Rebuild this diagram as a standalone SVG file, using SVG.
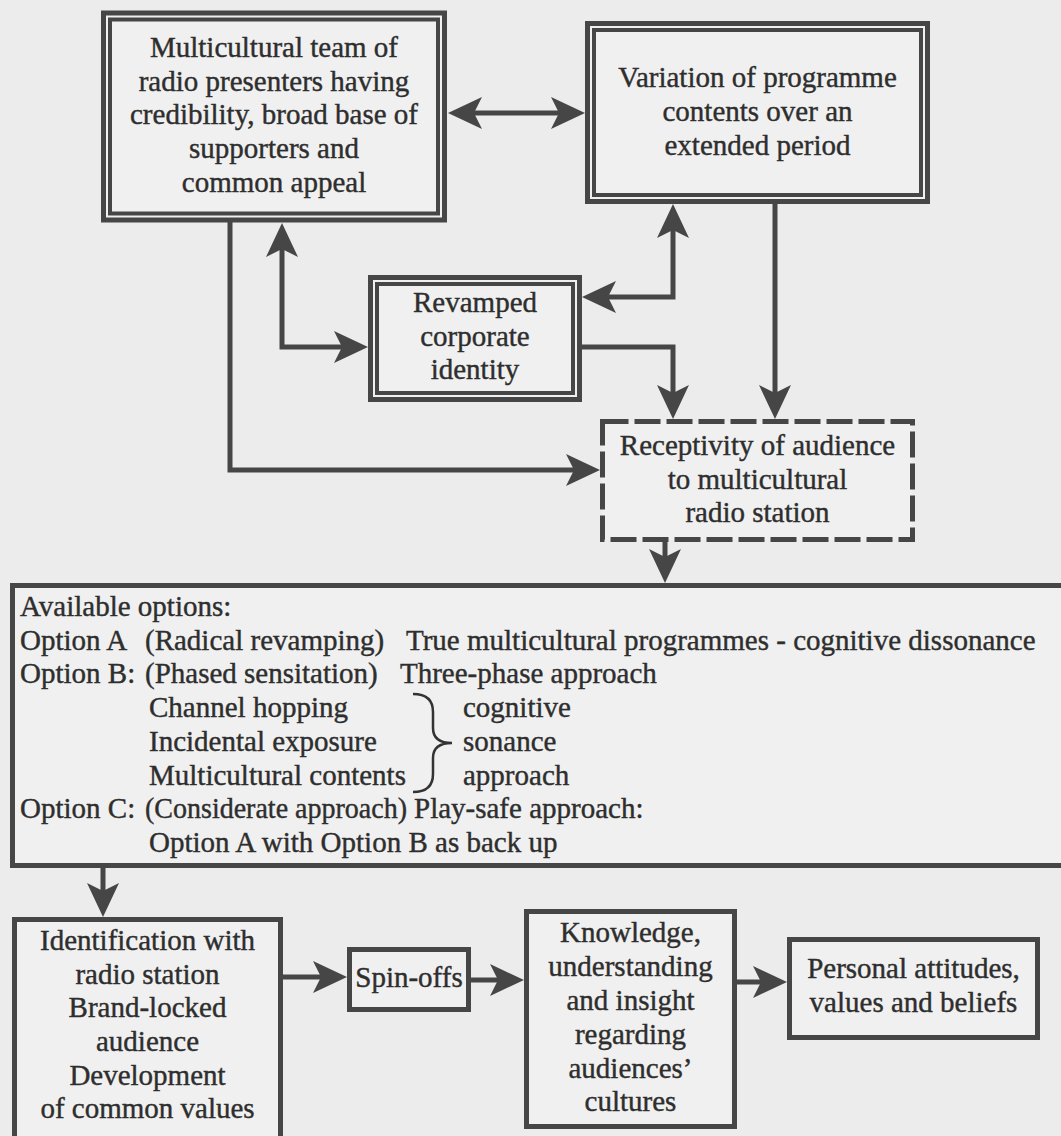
<svg xmlns="http://www.w3.org/2000/svg" width="1061" height="1136" viewBox="0 0 1061 1136" font-family="'Liberation Serif', serif">
  <defs>
    <marker id="ah" markerUnits="userSpaceOnUse" markerWidth="40" markerHeight="40" viewBox="0 -20 40 40" refX="10" refY="0" orient="auto-start-reverse" overflow="visible">
      <path d="M0,-16 L34,0 L0,16 L8,0 Z" fill="#464646"/>
    </marker>
  </defs>
  <style>
    .bg { fill: #ececec; }
    .outer { fill: #f0f0f0; stroke: #464646; stroke-width: 5; }
    .inner { fill: none; stroke: #464646; stroke-width: 4; }
    .single { fill: #f0f0f0; stroke: #464646; stroke-width: 5; }
    .dashed { fill: #f0f0f0; stroke: #464646; stroke-width: 5; stroke-dasharray: 26 6; }
    .conn { fill: none; stroke: #464646; stroke-width: 5; }
    .brace { fill: none; stroke: #333333; stroke-width: 2.5; }
    text { font-family: 'Liberation Serif', serif; font-size: 29px; fill: #2e2e2e; stroke: #2e2e2e; stroke-width: 0.4; }
    .c { text-anchor: middle; }
  </style>
  <rect class="bg" x="0" y="0" width="1061" height="1136"/>

  <g id="connectors">
    <path class="conn" d="M472,113 H561" marker-start="url(#ah)" marker-end="url(#ah)"/>
    <path class="conn" d="M230,222 V470 H576" marker-end="url(#ah)"/>
    <path class="conn" d="M282,247 V347 H344" marker-start="url(#ah)" marker-end="url(#ah)"/>
    <path class="conn" d="M673,228 V297 H606" marker-start="url(#ah)" marker-end="url(#ah)"/>
    <path class="conn" d="M582,347 H673 V395" marker-end="url(#ah)"/>
    <path class="conn" d="M775,204 V395" marker-end="url(#ah)"/>
    <path class="conn" d="M665,542 V559" marker-end="url(#ah)"/>
    <path class="conn" d="M103,868 V893" marker-end="url(#ah)"/>
    <path class="conn" d="M283,977 H323" marker-end="url(#ah)"/>
    <path class="conn" d="M471,980 H500" marker-end="url(#ah)"/>
    <path class="conn" d="M737,982 H763" marker-end="url(#ah)"/>
  </g>

  <g id="node-team">
    <rect class="outer" x="103.5" y="13" width="341" height="207"/>
    <rect class="inner" x="110" y="19.5" width="328" height="194"/>
    <text class="c" x="274" y="57">Multicultural team of</text>
    <text class="c" x="274" y="90.7">radio presenters having</text>
    <text class="c" x="274" y="124.4">credibility, broad base of</text>
    <text class="c" x="274" y="158.1">supporters and</text>
    <text class="c" x="274" y="191.8">common appeal</text>
  </g>

  <g id="node-variation">
    <rect class="outer" x="587.5" y="23.5" width="340" height="178"/>
    <rect class="inner" x="594" y="30" width="327" height="165"/>
    <text class="c" x="757.5" y="87">Variation of programme</text>
    <text class="c" x="757.5" y="121">contents over an</text>
    <text class="c" x="757.5" y="155">extended period</text>
  </g>

  <g id="node-revamped">
    <rect class="outer" x="370.5" y="277.5" width="209" height="122"/>
    <rect class="inner" x="377" y="284" width="196" height="109"/>
    <text class="c" x="475" y="312">Revamped</text>
    <text class="c" x="475" y="345.5">corporate</text>
    <text class="c" x="475" y="379">identity</text>
  </g>

  <g id="node-receptivity">
    <rect class="dashed" x="602.5" y="421.5" width="310" height="118"/>
    <text class="c" x="757.5" y="455">Receptivity of audience</text>
    <text class="c" x="757.5" y="489">to multicultural</text>
    <text class="c" x="757.5" y="522">radio station</text>
  </g>

  <g id="node-options">
    <rect class="single" x="12.5" y="585.5" width="1060" height="280"/>
    <text x="20" y="616">Available options:</text>
    <text x="20" y="649.7">Option A</text>
    <text x="145" y="649.7">(Radical revamping)</text>
    <text x="406" y="649.7">True multicultural programmes - cognitive dissonance</text>
    <text x="20" y="683.4">Option B:</text>
    <text x="145" y="683.4">(Phased sensitation)</text>
    <text x="400" y="683.4">Three-phase approach</text>
    <text x="149" y="717.1">Channel hopping</text>
    <text x="463" y="717.1">cognitive</text>
    <text x="149" y="750.8">Incidental exposure</text>
    <text x="463" y="750.8">sonance</text>
    <text x="149" y="784.5">Multicultural contents</text>
    <text x="463" y="784.5">approach</text>
    <path class="brace" d="M413,694 Q433,694 433,712 L433,728 Q433,743 452,743 Q433,743 433,758 L433,774 Q433,792 413,792"/>
    <text x="20" y="818.2">Option C:</text>
    <text x="145" y="818.2" textLength="262" lengthAdjust="spacingAndGlyphs">(Considerate approach)</text>
    <text x="414" y="818.2">Play-safe approach:</text>
    <text x="149" y="851.9">Option A with Option B as back up</text>
  </g>

  <g id="node-identification">
    <rect class="single" x="14.5" y="919.5" width="266" height="240"/>
    <text class="c" x="147.5" y="950">Identification with</text>
    <text class="c" x="147.5" y="983.5">radio station</text>
    <text class="c" x="147.5" y="1017">Brand-locked</text>
    <text class="c" x="147.5" y="1051">audience</text>
    <text class="c" x="147.5" y="1085">Development</text>
    <text class="c" x="147.5" y="1118">of common values</text>
  </g>

  <g id="node-spinoffs">
    <rect class="single" x="349.5" y="949.5" width="119" height="60"/>
    <text class="c" x="409" y="987">Spin-offs</text>
  </g>

  <g id="node-knowledge">
    <rect class="single" x="526.5" y="911.5" width="208" height="215"/>
    <text class="c" x="630.5" y="942">Knowledge,</text>
    <text class="c" x="630.5" y="976">understanding</text>
    <text class="c" x="630.5" y="1010">and insight</text>
    <text class="c" x="630.5" y="1043.5">regarding</text>
    <text class="c" x="630.5" y="1077.5">audiences’</text>
    <text class="c" x="630.5" y="1111">cultures</text>
  </g>

  <g id="node-personal">
    <rect class="single" x="789.5" y="939.5" width="248" height="98"/>
    <text class="c" x="913.5" y="978">Personal attitudes,</text>
    <text class="c" x="913.5" y="1012">values and beliefs</text>
  </g>
</svg>
